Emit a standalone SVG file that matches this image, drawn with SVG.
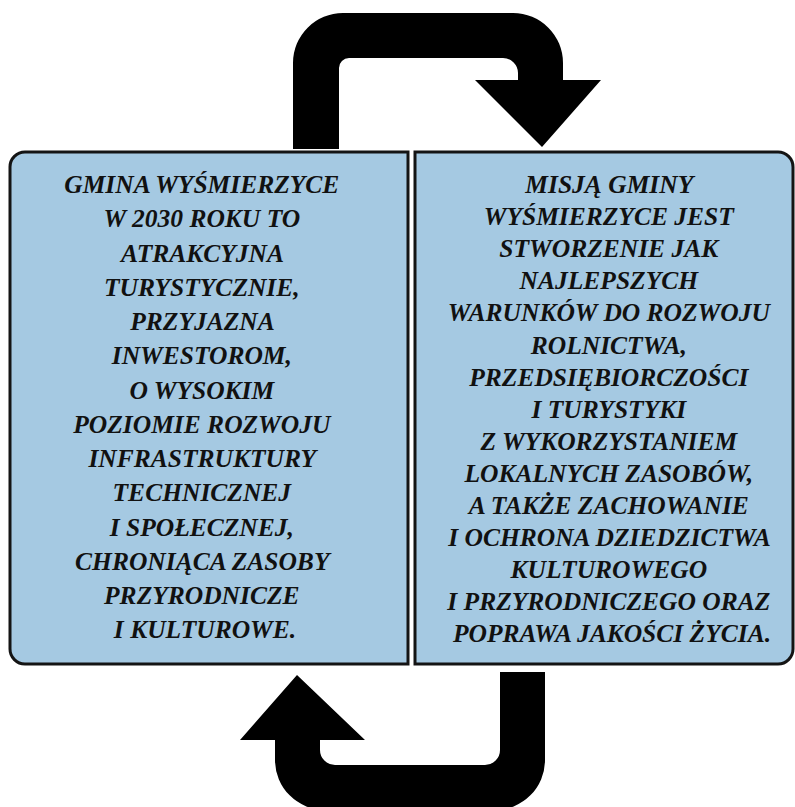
<svg xmlns="http://www.w3.org/2000/svg" width="795" height="807" viewBox="0 0 795 807">
<style>
.box{fill:#a5c9e2;stroke:#141414;stroke-width:3}
.arrow{fill:#000}
.t{font-family:"Liberation Serif","Times New Roman",serif;font-weight:bold;font-style:italic;font-size:25.5px;fill:#111;text-anchor:middle}
</style>
<rect width="795" height="807" fill="#fff"/>
<g id="connectors">
<path class="arrow" d="M 293 149 L 293 63 A 50 50 0 0 1 343 13 L 513 13 A 50 50 0 0 1 563 63 L 563 80 L 601 80 L 542 147 L 475 80 L 518 80 L 518 73 A 15 15 0 0 0 503 58 L 349 58 A 10 10 0 0 0 339 68 L 339 149 Z"/>
<path class="arrow" d="M 500 672 L 545 672 L 545 760 A 50 50 0 0 1 495 810 L 325 810 A 50 50 0 0 1 275 760 L 275 740 L 240 740 L 297 675 L 365 740 L 320 740 L 320 750 A 15 15 0 0 0 335 765 L 485 765 A 15 15 0 0 0 500 750 Z"/>
</g>
<g id="vision">
<path class="box" d="M 25 152 L 408 152 L 408 664 L 25 664 A 15 15 0 0 1 10 649 L 10 167 A 15 15 0 0 1 25 152 Z"/>
<text class="t" x="205" y="193">
<tspan x="205" dy="0">GMINA WYŚMIERZYCE</tspan>
<tspan x="205" dy="34.25">W 2030 ROKU TO</tspan>
<tspan x="205" dy="34.25">ATRAKCYJNA</tspan>
<tspan x="205" dy="34.25">TURYSTYCZNIE,</tspan>
<tspan x="205" dy="34.25">PRZYJAZNA</tspan>
<tspan x="205" dy="34.25">INWESTOROM,</tspan>
<tspan x="205" dy="34.25">O WYSOKIM</tspan>
<tspan x="205" dy="34.25">POZIOMIE ROZWOJU</tspan>
<tspan x="205" dy="34.25">INFRASTRUKTURY</tspan>
<tspan x="205" dy="34.25">TECHNICZNEJ</tspan>
<tspan x="205" dy="34.25">I SPOŁECZNEJ,</tspan>
<tspan x="205" dy="34.25">CHRONIĄCA ZASOBY</tspan>
<tspan x="205" dy="34.25">PRZYRODNICZE</tspan>
<tspan x="205" dy="34.25">I KULTUROWE.</tspan>
</text>
</g>
<g id="mission">
<path class="box" d="M 415 152 L 778 152 A 15 15 0 0 1 793 167 L 793 649 A 15 15 0 0 1 778 664 L 415 664 Z"/>
<text class="t" x="612" y="193">
<tspan x="612" dy="0">MISJĄ GMINY</tspan>
<tspan x="612" dy="32.1">WYŚMIERZYCE JEST</tspan>
<tspan x="612" dy="32.1">STWORZENIE JAK</tspan>
<tspan x="612" dy="32.1">NAJLEPSZYCH</tspan>
<tspan x="612" dy="32.1">WARUNKÓW DO ROZWOJU</tspan>
<tspan x="612" dy="32.1">ROLNICTWA,</tspan>
<tspan x="612" dy="32.1">PRZEDSIĘBIORCZOŚCI</tspan>
<tspan x="612" dy="32.1">I TURYSTYKI</tspan>
<tspan x="612" dy="32.1">Z WYKORZYSTANIEM</tspan>
<tspan x="612" dy="32.1">LOKALNYCH ZASOBÓW,</tspan>
<tspan x="612" dy="32.1">A TAKŻE ZACHOWANIE</tspan>
<tspan x="612" dy="32.1">I OCHRONA DZIEDZICTWA</tspan>
<tspan x="612" dy="32.1">KULTUROWEGO</tspan>
<tspan x="612" dy="32.1">I PRZYRODNICZEGO ORAZ</tspan>
<tspan x="612" dy="32.1">POPRAWA JAKOŚCI ŻYCIA.</tspan>
</text>
</g>
</svg>
